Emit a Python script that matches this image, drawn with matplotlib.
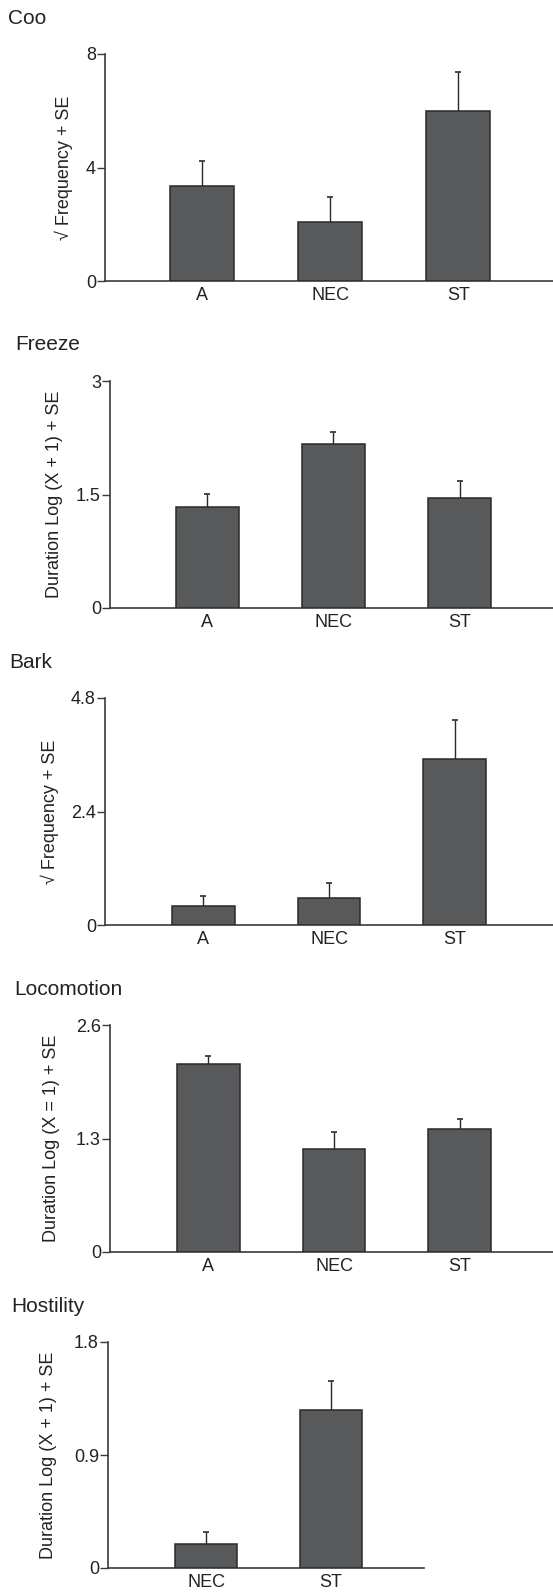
import numpy as np
import matplotlib
matplotlib.use("Agg")
import matplotlib.pyplot as plt

plt.rcParams['font.family'] = ['Liberation Sans', 'DejaVu Sans']

# data: bar means and standard errors
titles = ['Coo', 'Freeze', 'Bark', 'Locomotion', 'Hostility']
groups = [['A', 'NEC', 'ST'], ['A', 'NEC', 'ST'], ['A', 'NEC', 'ST'],
          ['A', 'NEC', 'ST'], ['NEC', 'ST']]
ylabels = ['\u221a Frequency + SE', 'Duration Log (X + 1) + SE', '\u221a Frequency + SE',
           'Duration Log (X = 1) + SE', 'Duration Log (X + 1) + SE']
coo_mean = [3.35, 2.08, 5.98]
coo_se = [0.87, 0.89, 1.40]
freeze_mean = [1.33, 2.17, 1.46]
freeze_se = [0.18, 0.15, 0.22]
bark_mean = [0.41, 0.58, 3.52]
bark_se = [0.20, 0.31, 0.81]
loco_mean = [2.15, 1.18, 1.41]
loco_se = [0.09, 0.19, 0.11]
host_mean = [0.19, 1.26]
host_se = [0.10, 0.23]
yticks = [[0, 4, 8], [0, 1.5, 3], [0, 2.4, 4.8], [0, 1.3, 2.6], [0, 0.9, 1.8]]
yticklabels = [['0', '4', '8'], ['0', '1.5', '3'], ['0', '2.4', '4.8'],
               ['0', '1.3', '2.6'], ['0', '0.9', '1.8']]

means = [coo_mean, freeze_mean, bark_mean, loco_mean, host_mean]
ses = [coo_se, freeze_se, bark_se, loco_se, host_se]

# layout in pixels (left, right, top, bottom of the axes)
W, H = 553, 1592
boxes = [(105, 553, 54, 281), (110, 553, 381, 608), (105, 553, 698, 925),
         (110, 553, 1025, 1252), (108, 424, 1342, 1568)]
xlims = [(-0.76, 2.74), (-0.77, 2.74), (-0.78, 2.78), (-0.78, 2.74), (-0.79, 1.75)]
title_pos = [(8, 19), (15, 345), (9, 663), (14, 990), (11, 1307)]
ylabel_x = [64, 55, 50, 52, 49]

bar_color = '#58595b'
edge_color = '#2a2a2a'
axis_color = '#3a3a3a'

fig = plt.figure(figsize=(W / 100, H / 100), dpi=100)

for i in range(5):
    l, r, t, b = boxes[i]
    ax = fig.add_axes([l / W, 1 - b / H, (r - l) / W, (b - t) / H])
    x = np.arange(len(groups[i]))
    err = [np.zeros(len(x)), ses[i]]
    ax.bar(x, means[i], width=0.5, color=bar_color, edgecolor=edge_color,
           linewidth=1.1, zorder=3)
    eb = ax.errorbar(x, means[i], yerr=err, fmt='none', ecolor=edge_color,
                     elinewidth=1.0, capsize=2.5, capthick=1.2, zorder=2)
    # only the upper cap is drawn in the original
    for cap in eb[1]:
        if np.allclose(cap.get_ydata(), means[i]):
            cap.set_visible(False)
    ax.set_xlim(*xlims[i])
    ax.set_ylim(0, yticks[i][-1])
    ax.set_xticks(x)
    ax.set_xticklabels(groups[i])
    ax.set_yticks(yticks[i])
    ax.set_yticklabels(yticklabels[i])
    for s in ['top', 'right']:
        ax.spines[s].set_visible(False)
    for s in ['left', 'bottom']:
        ax.spines[s].set_color(axis_color)
        ax.spines[s].set_linewidth(1.2)
    ax.tick_params(axis='x', length=0, pad=4.5, labelsize=13, labelcolor='#222222')
    ax.tick_params(axis='y', length=5.5, width=1.0, pad=1, color=axis_color,
                   labelsize=13, labelcolor='#222222')
    ax.set_ylabel(ylabels[i], fontsize=13, color='#222222', va='center')
    ax.yaxis.set_label_coords((ylabel_x[i] - l) / (r - l), 0.5)
    tx, ty = title_pos[i]
    fig.text(tx / W, 1 - ty / H, titles[i], fontsize=15, color='#222222',
             ha='left', va='center')

fig.savefig('out.png', dpi=100)
